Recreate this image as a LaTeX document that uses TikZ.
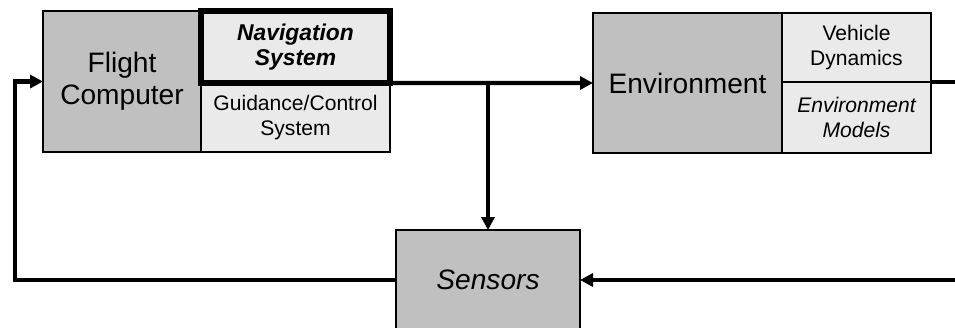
\documentclass[tikz,border=0pt]{standalone}
\usepackage{fontspec}
\setmainfont{Liberation Sans}
\usepackage{tikz}
\usetikzlibrary{arrows.meta, positioning, calc}
\definecolor{blkgray}{RGB}{192,192,192}
\definecolor{subgray}{RGB}{234,234,234}
\tikzset{
  block/.style={rectangle, draw=black, fill=blkgray, align=center,
    inner sep=0pt, outer sep=0pt, line width=1.1pt,
    font=\fontsize{16}{18}\selectfont},
  subblock/.style={rectangle, draw=black, fill=subgray, align=center,
    inner sep=0pt, outer sep=0pt, line width=1.1pt,
    font=\fontsize{12}{14}\selectfont},
  arrow/.style={-{Triangle[length=0.26cm, width=0.26cm]}, line width=2.3pt, color=black},
  line/.style={line width=2.3pt, color=black}
}
\begin{document}
\begin{tikzpicture}
  \useasboundingbox (0,0) rectangle (19.1,-6.54);

  \node[block, minimum width=3.16cm, minimum height=2.82cm] (fc) at (2.44,-1.63) {Flight\\Computer};
  \node[subblock, minimum width=3.78cm, minimum height=1.38cm] (guid) at (5.91,-2.35) {Guidance/Control\\System};
  \node[subblock, minimum width=3.78cm, minimum height=1.44cm, line width=3.4pt,
    font=\fontsize{13}{14.5}\selectfont\bfseries\itshape] (nav) at (5.91,-0.94) {Navigation\\System};

  \node[block, minimum width=3.78cm, minimum height=2.8cm] (env) at (13.75,-1.66) {Environment};
  \node[subblock, minimum width=2.98cm, minimum height=1.38cm] (veh) at (17.13,-0.95) {Vehicle\\Dynamics};
  \node[subblock, minimum width=2.98cm, minimum height=1.42cm, font=\fontsize{12}{14}\selectfont\itshape] (mod) at (17.13,-2.35) {Environment\\Models};

  \node[block, minimum width=3.68cm, minimum height=2.0cm, font=\fontsize{16}{18}\selectfont\itshape] (sens) at (9.76,-5.6) {Sensors};

  \coordinate (lft) at (0.3,0);
  \coordinate (rtop) at (19.1,-1.64);
  \coordinate (rbot) at (19.1,-5.6);
  \coordinate (tap) at (sens.north |- guid.north east);

  \draw[arrow] (guid.north east) -- (env.west);
  \draw[line] (tap) -- ([yshift=0.02cm]tap);
  \draw[arrow] (tap) -- (sens.north);
  \draw[line] (veh.south east) -- (rtop);
  \draw[arrow] (rbot) -- (sens.east);
  \draw[arrow] (sens.west) -- (sens.west -| lft) |- (fc.west);
\end{tikzpicture}
\end{document}
